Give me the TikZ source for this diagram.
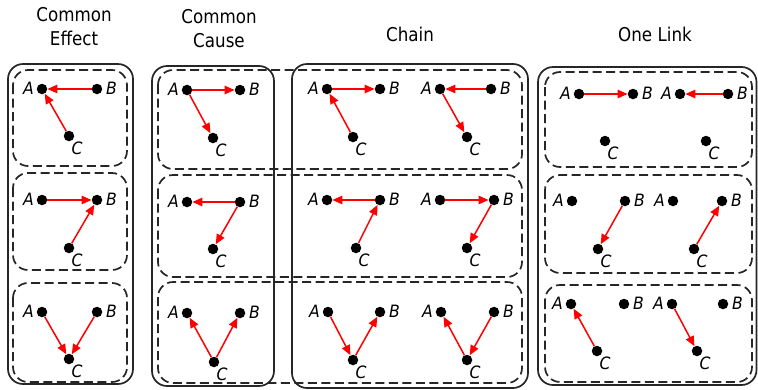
\documentclass[tikz,border=0pt]{standalone}
\usepackage{fontspec}
\setmainfont{DejaVu Sans}
\newfontfamily\titlefont{DejaVu Sans}[FakeStretch=0.88]
\newfontfamily\labfont{DejaVu Sans Oblique}[FakeStretch=0.92]
\usetikzlibrary{arrows.meta}
\tikzset{
  dot/.style={circle,fill=black,inner sep=0pt,minimum size=10.5pt},
  lab/.style={inner sep=0pt,font=\fontsize{17}{17}\selectfont\labfont},
  ttl/.style={inner sep=0pt,anchor=base,font=\fontsize{19}{19}\selectfont\titlefont},
  arr/.style={draw=red,line width=1.5pt,-{Triangle[length=10pt,width=8.5pt]}},
  solidbox/.style={draw=black!85,line width=1.7pt,rounded corners=15pt},
  dashbox/.style={draw=black!85,line width=1.7pt,rounded corners=15pt,dash pattern=on 9pt off 4.5pt}
}
% triad: prefix, Ax, Bx, Cx, ABy, Cy
\newcommand\triad[6]{%
  \node[dot] (#1A) at (#2,#5) {};
  \node[dot] (#1B) at (#3,#5) {};
  \node[dot] (#1C) at (#4,#6) {};
  \node[lab] (#1Al) at ([shift={(-13.5,-1)}]#1A.center) {A};
  \node[lab] (#1Bl) at ([shift={(14.5,-1)}]#1B.center) {B};
  \node[lab] (#1Cl) at ([shift={(8,12.5)}]#1C.center) {C};
}
\begin{document}
\begin{tikzpicture}[x=1pt,y=-1pt]
\useasboundingbox (0,0) rectangle (758,389);
% titles
\node[ttl] (t1a) at (74,21) {Common};
\node[ttl] (t1b) at (74,45) {Effect};
\node[ttl] (t2a) at (219,23) {Common};
\node[ttl] (t2b) at (219,47) {Cause};
\node[ttl] (t3) at (410,41) {Chain};
\node[ttl] (t4) at (655,41) {One Link};
% solid group boxes
\draw[solidbox] (8,64) rectangle (133,384);
\draw[solidbox] (152,66) rectangle (274,386);
\draw[solidbox] (292,64) rectangle (528,388);
\draw[solidbox] (538,67) rectangle (756.5,385);
% dashed row boxes
\draw[dashbox] (13,70) rectangle (127,166);
\draw[dashbox] (13,173) rectangle (127,270);
\draw[dashbox] (13,283) rectangle (127,382);
\draw[dashbox] (158,70) rectangle (522,169);
\draw[dashbox] (158,175) rectangle (522,277);
\draw[dashbox] (158,282) rectangle (522,383);
\draw[dashbox] (545,72) rectangle (752,167);
\draw[dashbox] (545,175) rectangle (752,273);
\draw[dashbox] (545,285) rectangle (752,382);
% Common Effect
\triad{ea}{42}{97}{69}{89}{136}
\triad{eb}{42}{97}{69}{200}{248}
\triad{ec}{42}{97}{69}{312}{359}
\draw[arr] (eaB) -- (eaA); \draw[arr] (eaC) -- (eaA);
\draw[arr] (ebA) -- (ebB); \draw[arr] (ebC) -- (ebB);
\draw[arr] (ecA) -- (ecC); \draw[arr] (ecB) -- (ecC);
% Common Cause
\triad{ca}{187}{240}{213}{90}{138}
\triad{cb}{187}{240}{213}{202}{249}
\triad{cc}{187}{240}{214}{313}{362}
\draw[arr] (caA) -- (caB); \draw[arr] (caA) -- (caC);
\draw[arr] (cbB) -- (cbA); \draw[arr] (cbB) -- (cbC);
\draw[arr] (ccC) -- (ccA); \draw[arr] (ccC) -- (ccB);
% Chain
\triad{ha}{327}{380}{353}{89}{137}
\triad{hb}{440}{491}{467}{89}{137}
\triad{hc}{327}{380}{356}{200}{248}
\triad{hd}{440}{494}{467}{200}{248}
\triad{he}{328}{380}{353}{312}{360}
\triad{hf}{441}{494}{467}{312}{360}
\draw[arr] (haA) -- (haB); \draw[arr] (haC) -- (haA);
\draw[arr] (hbB) -- (hbA); \draw[arr] (hbA) -- (hbC);
\draw[arr] (hcB) -- (hcA); \draw[arr] (hcC) -- (hcB);
\draw[arr] (hdA) -- (hdB); \draw[arr] (hdB) -- (hdC);
\draw[arr] (heA) -- (heC); \draw[arr] (heC) -- (heB);
\draw[arr] (hfC) -- (hfA); \draw[arr] (hfB) -- (hfC);
% One Link
\triad{la}{579}{633}{605}{94}{141}
\triad{lb}{680}{728}{706}{94}{141}
\triad{lc}{572}{625}{598}{201}{249}
\triad{ld}{673}{722}{694}{201}{249}
\triad{le}{571}{624}{597}{304}{351}
\triad{lf}{672}{723}{697}{304}{351}
\draw[arr] (laA) -- (laB);
\draw[arr] (lbB) -- (lbA);
\draw[arr] (lcB) -- (lcC);
\draw[arr] (ldC) -- (ldB);
\draw[arr] (leC) -- (leA);
\draw[arr] (lfA) -- (lfC);
\end{tikzpicture}
\end{document}
